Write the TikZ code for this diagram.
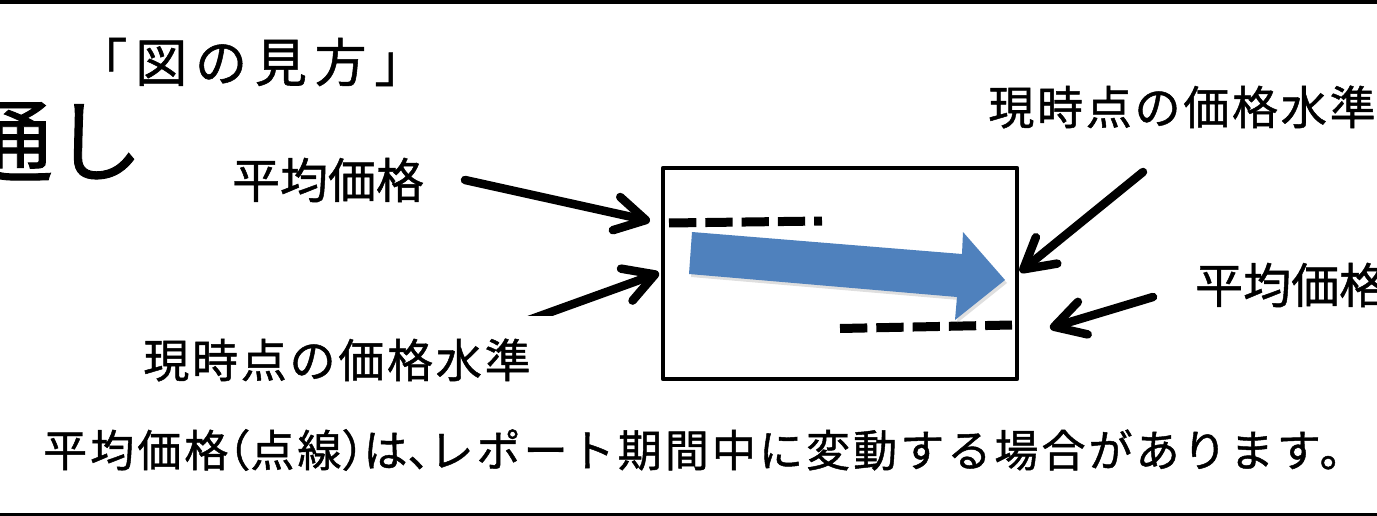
\documentclass[tikz,border=0pt]{standalone}
\usepackage{fontspec}
\setmainfont{Noto Sans CJK JP}[FakeBold=1]
\newfontfamily\jp{Noto Sans CJK JP}[FakeBold=1]
\newfontfamily\jpls{Noto Sans CJK JP}[LetterSpace=6,FakeBold=1]
\newfontfamily\jpnote{Noto Sans CJK JP}[LetterSpace=7,FakeBold=1]
\newfontfamily\jpwide{Noto Sans CJK JP}[LetterSpace=15,FakeBold=1]
\newcommand\halfw[1]{{\addfontfeatures{RawFeature=+halt}#1}}
\usetikzlibrary{arrows.meta,shadows}
\definecolor{officeblue}{HTML}{4F81BD}
\begin{document}
\begin{tikzpicture}[x=1pt,y=-1pt,
  lbl/.style={inner sep=0pt, font=\jp\fontsize{48}{56}\selectfont},
  ptr/.style={line width=8.5pt, line cap=round, -{Straight Barb[length=30pt,width=34pt,round]}},
  dashline/.style={line width=9pt, dash pattern=on 27.3pt off 9pt},
  rule/.style={line width=4pt},
]
\useasboundingbox (0,0) rectangle (1377,516);
% border rules
\draw[rule] (0,2) -- (1377,2);
\draw[rule] (0,514.5) -- (1377,514.5);

% texts
\node[lbl, font=\jp\fontsize{90}{100}\selectfont] (tsu) at (53,141) {通し};
\node[lbl, font=\jpwide\fontsize{52}{60}\selectfont] (mikata) at (251,62) {「図の見方」};
\node[lbl] (avgL) at (328,180) {平均価格};
\node[lbl, font=\jpls\fontsize{46}{54}\selectfont] (curR) at (1182,107) {現時点の価格水準};
\node[lbl, anchor=west] (avgR) at (1195,285) {平均価格};
\node[lbl, font=\jpls\fontsize{46}{54}\selectfont] (curL) at (337,360) {現時点の価格水準};
\node[lbl, font=\jpnote\fontsize{44}{52}\selectfont, anchor=west] (note) at (43,450)
  {平均価格\halfw{（}点線\halfw{）}は\halfw{、}レポート期間中に変動する場合があります。};

% frame
\node[draw, line width=4.5pt, line join=round, minimum width=354pt, minimum height=211pt, inner sep=0pt] (box) at (840,273.5) {};

% dashed average lines
\coordinate (d1a) at (669,223);
\coordinate (d1b) at (822,221);
\coordinate (d2a) at (840,328.5);
\coordinate (d2b) at (1012,325);
\draw[dashline] (d1a) -- (d1b);
\draw[dashline] (d2a) -- (d2b);

% blue trend arrow
\fill[officeblue, drop shadow={shadow xshift=2pt, shadow yshift=-3pt, opacity=0.25}]
  (692,232) -- (962,254) -- (963,232) -- (1005,280) -- (955,320) -- (957,297) -- (689,274) -- cycle;

% pointer arrows
\coordinate (a1s) at (465,180);
\coordinate (a1e) at (650,221);
\coordinate (a2s) at (490,334);
\coordinate (a2e) at (659,273);
\coordinate (a3s) at (1143,172);
\coordinate (a3e) at (1020,272);
\coordinate (a4s) at (1153,297);
\coordinate (a4e) at (1050,328);
\draw[ptr] (a1s) -- (a1e);
\begin{scope}
  \clip (0,0) rectangle (1377,315.5);
  \draw[ptr] (a2s) -- (a2e);
\end{scope}
\draw[ptr] (a3s) -- (a3e);
\draw[ptr] (a4s) -- (a4e);
\end{tikzpicture}
\end{document}
